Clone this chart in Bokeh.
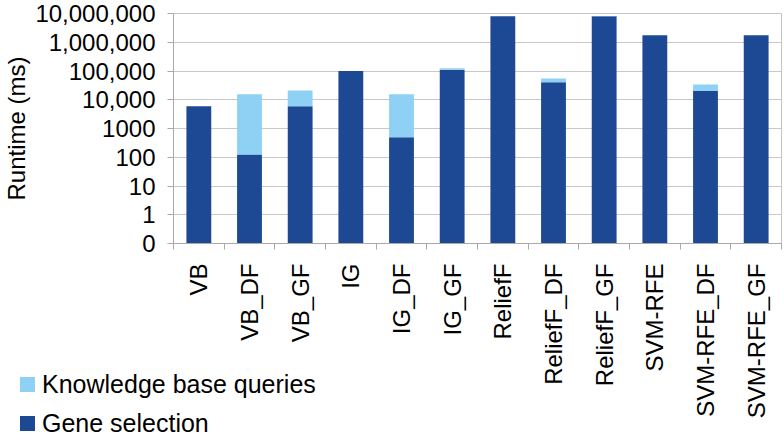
import math
import numpy as np
from bokeh.plotting import figure
from bokeh.layouts import column
from bokeh.models import (ColumnDataSource, FixedTicker, CustomJSTickFormatter,
                          Range1d, Div)
from bokeh.embed import file_html
from bokeh.resources import INLINE

categories = ["VB", "VB_DF", "VB_GF", "IG", "IG_DF", "IG_GF", "ReliefF",
              "ReliefF_DF", "ReliefF_GF", "SVM-RFE", "SVM-RFE_DF", "SVM-RFE_GF"]
gene_selection = [6000, 125, 6000, 100000, 500, 110000, 8100000,
                  40500, 8100000, 1750000, 20000, 1750000]
knowledge_base_queries = [0, 15400, 15000, 0, 15000, 15000, 0,
                          14500, 15000, 0, 14000, 15000]
series_names = ["Knowledge base queries", "Gene selection"]
y_tick_values = [0.1, 1, 10, 100, 1000, 1e4, 1e5, 1e6, 1e7]
y_tick_labels = ["0", "1", "10", "100", "1000", "10,000", "100,000",
                 "1,000,000", "10,000,000"]

DARK = "#1c4894"
LIGHT = "#8fd0f5"
GRID = "#c8c8c8"
AXIS = "#aaaaaa"
FONT = "Liberation Sans"

n = len(categories)
xpos = np.arange(n) + 0.5
gene = np.array(gene_selection, dtype=float)
total = gene + np.array(knowledge_base_queries, dtype=float)
floor = np.full(n, y_tick_values[0])

src = ColumnDataSource(dict(x=xpos, gene=gene, total=total, floor=floor))

W, H = 784, 440
LEG_H = 72

p = figure(width=W, height=H,
           x_range=Range1d(0, n), y_range=Range1d(y_tick_values[0], y_tick_values[-1]),
           y_axis_type="log", output_backend="svg", toolbar_location=None,
           min_border_left=165, min_border_right=3, min_border_top=13,
           min_border_bottom=197)
p.background_fill_color = "white"
p.border_fill_color = "white"
p.outline_line_color = "#c4c4c4"

r_gene = p.vbar(x="x", width=0.49, bottom="floor", top="gene", source=src,
                fill_color=DARK, line_color=None)
r_kb = p.vbar(x="x", width=0.49, bottom="gene", top="total", source=src,
              fill_color=LIGHT, line_color=None)

# x axis
xa = p.xaxis[0]
xa.ticker = FixedTicker(ticks=list(xpos), minor_ticks=list(range(n + 1)))
xa.formatter = CustomJSTickFormatter(args=dict(cat_labels=categories),
                                     code="const i = Math.floor(tick); return (i >= 0 && i < cat_labels.length) ? cat_labels[i] : '';")
xa.major_label_orientation = math.pi / 2
xa.major_tick_out = 0
xa.major_tick_in = 0
xa.minor_tick_out = 6
xa.minor_tick_in = 0
xa.minor_tick_line_color = AXIS
xa.axis_line_color = AXIS
xa.major_label_standoff = 14
xa.major_label_text_font = FONT
xa.major_label_text_font_size = "24px"
xa.major_label_text_color = "black"

# y axis
ya = p.yaxis[0]
ya.ticker = FixedTicker(ticks=y_tick_values, minor_ticks=[])
ya.formatter = CustomJSTickFormatter(
    args=dict(yvals=y_tick_values, ylabels=y_tick_labels),
    code="""
for (let j = 0; j < yvals.length; j++) {
  if (Math.abs(Math.log10(tick / yvals[j])) < 1e-6) return ylabels[j];
}
return '';
""")
ya.major_tick_out = 6
ya.major_tick_in = 0
ya.minor_tick_out = 0
ya.minor_tick_in = 0
ya.major_tick_line_color = AXIS
ya.axis_line_color = AXIS
ya.major_label_standoff = 12
ya.major_label_text_font = FONT
ya.major_label_text_font_size = "24px"
ya.major_label_text_color = "black"
ya.axis_label = "Runtime (ms)"
ya.axis_label_text_font = FONT
ya.axis_label_text_font_size = "24px"
ya.axis_label_text_font_style = "normal"
ya.axis_label_text_color = "black"
ya.axis_label_standoff = 2

p.xgrid.visible = False
p.ygrid.grid_line_color = GRID
p.ygrid.grid_line_width = 1

# legend (HTML), overlaid on the lower-left corner of the chart
legend_colors = [r_kb.glyph.fill_color, r_gene.glyph.fill_color]
rows = []
for i, (name, col) in enumerate(zip(series_names, legend_colors)):
    mb = "10px" if i == 0 else "0px"
    rows.append(
        f'<div style="display:flex;align-items:center;height:29px;margin-bottom:{mb};">'
        f'<span style="display:inline-block;width:15px;height:15px;background:{col};'
        f'margin-right:7px;flex:none;"></span>'
        f'<span style="white-space:nowrap;">{name}</span></div>')
legend_html = (f'<div style="font-family:\'{FONT}\',Arial,sans-serif;font-size:25px;'
               f'color:black;line-height:29px;padding:2px 0 0 20px;">'
               + "".join(rows) + "</div>")
legend_div = Div(text=legend_html, width=350, height=LEG_H,
                 margin=(-LEG_H, 0, 0, 0),
                 styles={"position": "relative", "z-index": "10"})

layout = column(p, legend_div, spacing=0)

open("out.html", "w").write(file_html(layout, INLINE))
